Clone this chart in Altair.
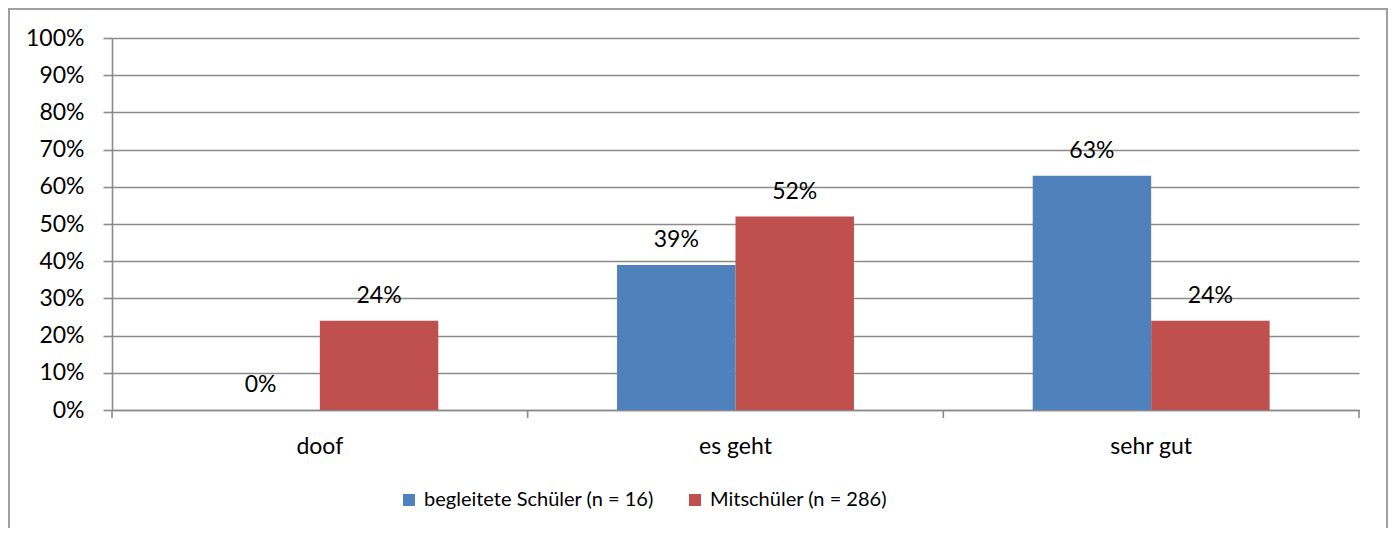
import altair as alt
import pandas as pd

categories = ["doof", "es geht", "sehr gut"]
series = ["begleitete Schüler (n = 16)", "Mitschüler (n = 286)"]
begleitete = [0.0, 0.39, 0.63]
mitschueler = [0.24, 0.52, 0.24]
y_ticks = [0.0, 0.1, 0.2, 0.3, 0.4, 0.5, 0.6, 0.7, 0.8, 0.9, 1.0]
boundaries = [0, 1, 2, 3]
colors = ["#4F81BD", "#C0504D"]

rows = []
for i, c in enumerate(categories):
    rows.append({"cat": c, "series": series[0], "value": begleitete[i]})
    rows.append({"cat": c, "series": series[1], "value": mitschueler[i]})
df = pd.DataFrame(rows)

W, H = 1247, 372
FONT = "Lato"
FS = 23
GRID = "#8a8a8a"
GW = 1.6

xscale = alt.Scale(paddingInner=0.43, paddingOuter=0.215)
xoff = alt.XOffset("series:N", sort=series, scale=alt.Scale(paddingInner=0, paddingOuter=0))

yaxis = alt.Axis(
    values=y_ticks, tickCount=11, format=".0%", title=None, grid=True,
    gridColor=GRID, gridWidth=GW, domainColor=GRID, domainWidth=GW,
    tickColor=GRID, tickWidth=GW, tickSize=9, labelPadding=19,
    labelFontSize=FS, labelFont=FONT, labelColor="black",
    labelOverlap=False, labelBound=False, labelFlush=False,
)
yscale = alt.Scale(domain=[0, 1], nice=False)

bars = alt.Chart(df).mark_bar().encode(
    x=alt.X(
        "cat:N", sort=categories, title=None, scale=xscale,
        axis=alt.Axis(
            labelAngle=0, ticks=False, domain=True, domainColor=GRID,
            domainWidth=GW, labelFontSize=FS, labelFont=FONT,
            labelColor="black", labelPadding=25, grid=False,
        ),
    ),
    xOffset=xoff,
    y=alt.Y("value:Q", scale=yscale, axis=yaxis),
    color=alt.Color(
        "series:N", sort=series,
        scale=alt.Scale(domain=series, range=colors),
        legend=alt.Legend(
            orient="none", legendX=287, legendY=452, direction="horizontal",
            title=None, symbolType="square", symbolSize=144,
            symbolStrokeWidth=0, labelFontSize=20, labelFont=FONT,
            labelColor="black", columnPadding=31, labelOffset=5, padding=0,
            labelLimit=0,
        ),
    ),
)

labels = alt.Chart(df).mark_text(
    baseline="alphabetic", dy=-18, fontSize=FS, font=FONT, color="black"
).encode(
    x=alt.X("cat:N", sort=categories, scale=xscale, axis=None),
    xOffset=xoff,
    y=alt.Y("value:Q", scale=yscale, axis=yaxis),
    text=alt.Text("value:Q", format=".0%"),
)

ticks = alt.Chart(pd.DataFrame({"b": boundaries})).mark_rule(
    color=GRID, strokeWidth=GW
).encode(
    x=alt.X("b:Q", scale=alt.Scale(domain=[0, 3], nice=False, zero=False), axis=None),
    y=alt.value(H),
    y2=alt.value(H + 8),
)

border = alt.Chart(pd.DataFrame({"a": [0]})).mark_rect(
    fillOpacity=0, stroke="#a0a0a0", strokeWidth=2
).encode(
    x=alt.value(-103), x2=alt.value(1275), y=alt.value(-29), y2=alt.value(H + 300)
)

chart = alt.layer(bars, labels, ticks, border).resolve_scale(
    x="independent"
).properties(
    width=W, height=H,
    padding={"left": 104, "top": 30, "right": 29, "bottom": 118},
    autosize=alt.AutoSizeParams(type="none"),
    background="white",
).configure_view(strokeWidth=0)

chart.save("out.html", embed_options={"renderer": "svg", "actions": False})
